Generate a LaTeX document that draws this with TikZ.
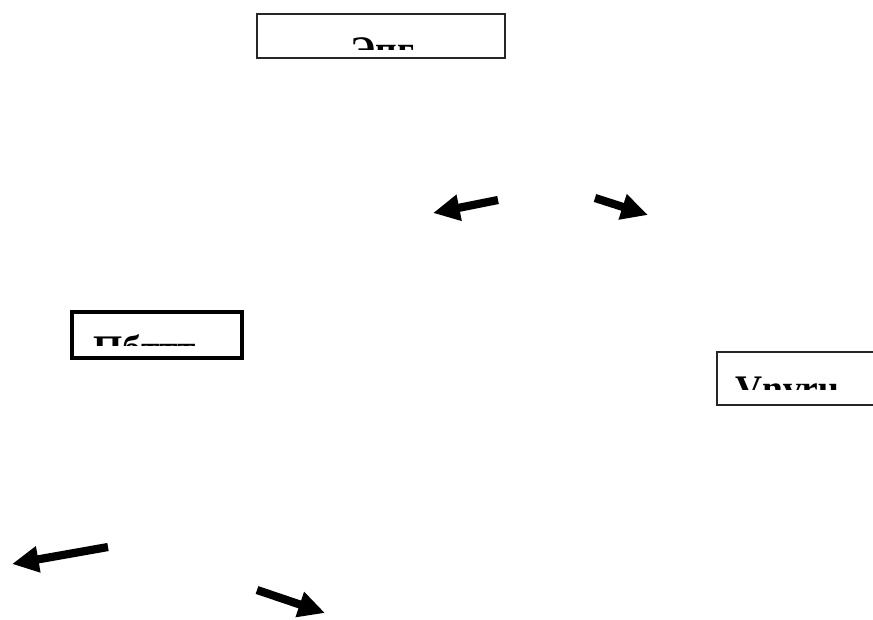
\documentclass[tikz,border=0pt]{standalone}
\usepackage{fontspec}
\setmainfont{Liberation Serif}
\usepackage{tikz}
\usetikzlibrary{positioning, arrows.meta}
\tikzset{box/.style={draw, rectangle, inner sep=0pt}}
\tikzset{blockarrow/.style={line width=7pt, -{Triangle[length=0.8cm, width=0.75cm]}}}
\tikzset{lbl/.style={font=\bfseries\fontsize{32}{34}\selectfont, inner sep=0pt, anchor=base west}}

\begin{document}
\begin{tikzpicture}[x=0.03cm, y=-0.03cm]
	\useasboundingbox (0,0) rectangle (873,619);

	% boxes
	\node[box, draw=black!85, line width=1.5pt, minimum width=7.44cm, minimum height=1.32cm] (t) at (381,36) {};
	\node[box, line width=3.8pt, minimum width=5.1cm, minimum height=1.38cm] (l) at (157,335) {};
	\node[box, draw=black!85, line width=1.5pt, minimum width=4.89cm, minimum height=1.59cm] (r) at (798.5,378.5) {};

	% clipped labels
	\begin{scope}
		\clip (258,15) rectangle (504,50);
		\node[lbl] (tl) at (350,63) {Эпг};
	\end{scope}
	\begin{scope}
		\clip (74,314) rectangle (240,345);
		\node[lbl] (ll) at (93,361) {Пбттт};
	\end{scope}
	\begin{scope}
		\clip (718,354) rectangle (873,389);
		\node[lbl] (rl) at (735,401) {Vnvru};
	\end{scope}

	% arrows
	\coordinate (a1) at (498,200);
	\coordinate (b1) at (433,213);
	\coordinate (a2) at (595,198);
	\coordinate (b2) at (648,215);
	\coordinate (a3) at (108,547);
	\coordinate (b3) at (12,564);
	\coordinate (a4) at (257,590);
	\coordinate (b4) at (325,613);

	\draw[blockarrow] (a1) -- (b1);
	\draw[blockarrow] (a2) -- (b2);
	\draw[blockarrow] (a3) -- (b3);
	\draw[blockarrow] (a4) -- (b4);
\end{tikzpicture}
\end{document}
